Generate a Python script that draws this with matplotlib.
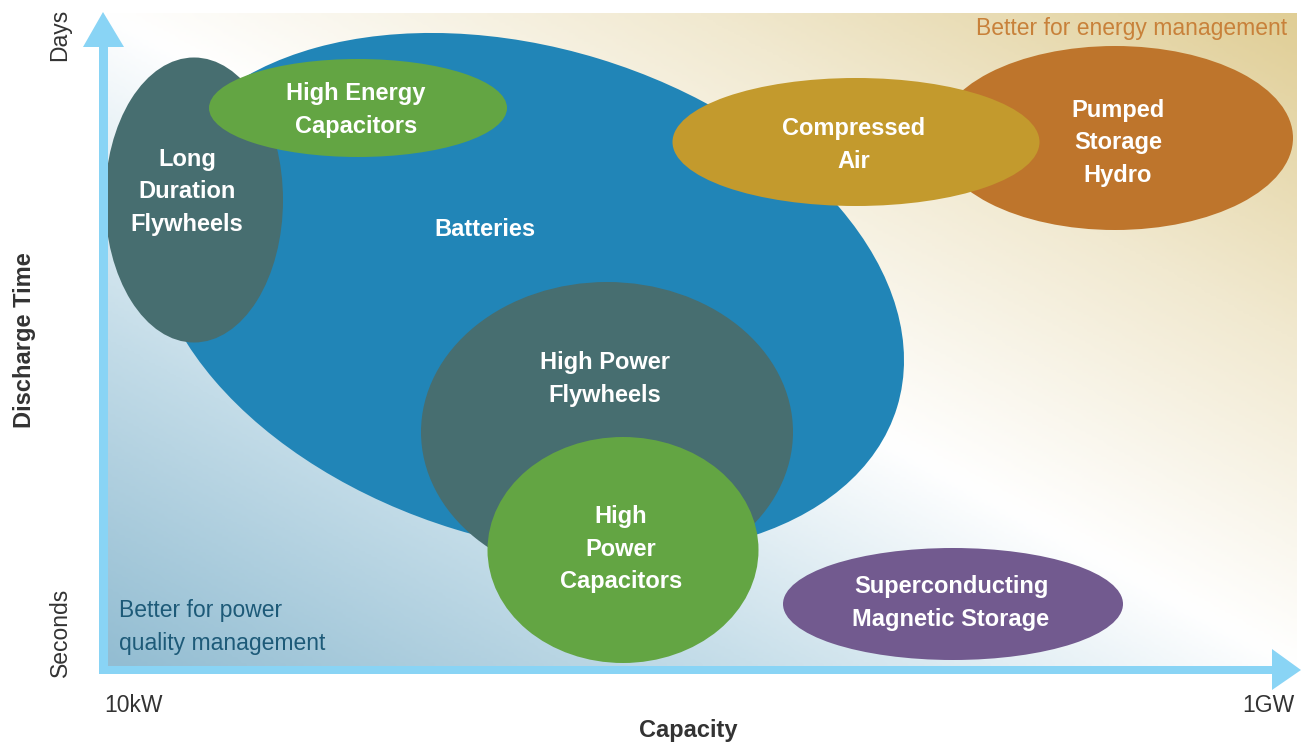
import numpy as np
import matplotlib
matplotlib.use("Agg")
import matplotlib.pyplot as plt
from matplotlib.patches import Ellipse, Polygon, Rectangle
from matplotlib.colors import LinearSegmentedColormap

# ---------------- data (diagram coordinates, pixel-like units; y grows downward) -------------
techs = ["Batteries", "Long Duration Flywheels", "High Energy Capacitors",
         "Pumped Storage Hydro", "Compressed Air", "High Power Flywheels",
         "High Power Capacitors", "Superconducting Magnetic Storage"]
labels = ["Batteries", "Long\nDuration\nFlywheels", "High Energy\nCapacitors",
          "Pumped\nStorage\nHydro", "Compressed\nAir", "High Power\nFlywheels",
          "High\nPower\nCapacitors", "Superconducting\nMagnetic Storage"]
center_x = [527, 194, 358, 1115, 856, 607, 623, 953]
center_y = [294, 200, 108, 138, 142, 432, 550, 604]
widths   = [774, 178, 298, 356, 367, 372, 271, 340]
heights  = [492, 285, 98, 184, 128, 300, 226, 112]
angles   = [17, 0, 0, 0, 0, 0, 0, 0]
colors   = ["#2185b7", "#476e70", "#63a543", "#be752c", "#c39a2d",
            "#476e70", "#63a543", "#725a8f"]
label_x  = [485, 187, 356, 1118, 854, 605, 621, 951]
label_y  = [230, 192, 110, 143, 145, 379, 549, 603]

x_tick_labels = ["10kW", "1GW"]
y_tick_labels = ["Seconds", "Days"]

W, H = 1301, 746
fig = plt.figure(figsize=(W / 100, H / 100), dpi=100)
ax = fig.add_axes([0, 0, 1, 1])
ax.set_xlim(0, W)
ax.set_ylim(H, 0)
ax.axis("off")

FONT = ["Liberation Sans", "DejaVu Sans"]

# ---------------- background gradient ----------------
x0, x1, y0, y1 = 107, 1297, 13, 666
nx, ny = 400, 220
u = np.linspace(0, 1, nx)[None, :]
v = np.linspace(1, 0, ny)[:, None]
t = (u + v) / 2.0
cmap = LinearSegmentedColormap.from_list(
    "bg", [(0.0, "#93bdd2"), (0.25, "#c3dce8"), (0.5, "#ffffff"),
           (0.75, "#f1e9d0"), (1.0, "#e0ce96")])
ax.imshow(t, cmap=cmap, vmin=0, vmax=1, extent=(x0, x1, y1, y0),
          aspect="auto", zorder=0, interpolation="bilinear")

# ---------------- ellipses ----------------
for i, name in enumerate(techs):
    e = Ellipse((center_x[i], center_y[i]), widths[i], heights[i], angle=angles[i],
                facecolor=colors[i], edgecolor="none", zorder=2 + i)
    ax.add_patch(e)
    ax.text(label_x[i], label_y[i], labels[i], ha="center", va="center",
            multialignment="center", color="white", fontsize=17,
            fontweight="bold", family=FONT, zorder=20, linespacing=1.55)

# ---------------- axes arrows ----------------
arrow_c = "#89d4f5"
ax.add_patch(Rectangle((99, 45), 9, 629, facecolor=arrow_c, edgecolor="none", zorder=15))
ax.add_patch(Polygon([(83, 47), (124, 47), (103, 12)], closed=True,
                     facecolor=arrow_c, edgecolor="none", zorder=15))
ax.add_patch(Rectangle((99, 666), 1175, 8, facecolor=arrow_c, edgecolor="none", zorder=15))
ax.add_patch(Polygon([(1272, 649), (1272, 690), (1301, 670)], closed=True,
                     facecolor=arrow_c, edgecolor="none", zorder=15))

# ---------------- axis texts ----------------
dark = "#333333"
ax.text(133, 705, x_tick_labels[0], ha="center", va="center", fontsize=16.5,
        color=dark, family=FONT)
ax.text(1268, 705, x_tick_labels[1], ha="center", va="center", fontsize=16.5,
        color=dark, family=FONT)
ax.text(60, 632, y_tick_labels[0], ha="center", va="center", fontsize=16.5,
        color=dark, family=FONT, rotation=90)
ax.text(60, 35, y_tick_labels[1], ha="center", va="center", fontsize=16.5,
        color=dark, family=FONT, rotation=90)
ax.text(688, 731, "Capacity", ha="center", va="center", fontsize=17,
        fontweight="bold", color=dark, family=FONT)
ax.text(25, 340, "Discharge Time", ha="center", va="center", fontsize=17,
        fontweight="bold", color=dark, family=FONT, rotation=90)

ax.text(1287, 29, "Better for energy management", ha="right", va="center",
        fontsize=16.5, color="#c8813a", family=FONT, zorder=20)
ax.text(119, 627, "Better for power\nquality management", ha="left", va="center",
        fontsize=16.5, color="#1d5a78", family=FONT, zorder=20, linespacing=1.6)

fig.savefig("out.png", dpi=100)
